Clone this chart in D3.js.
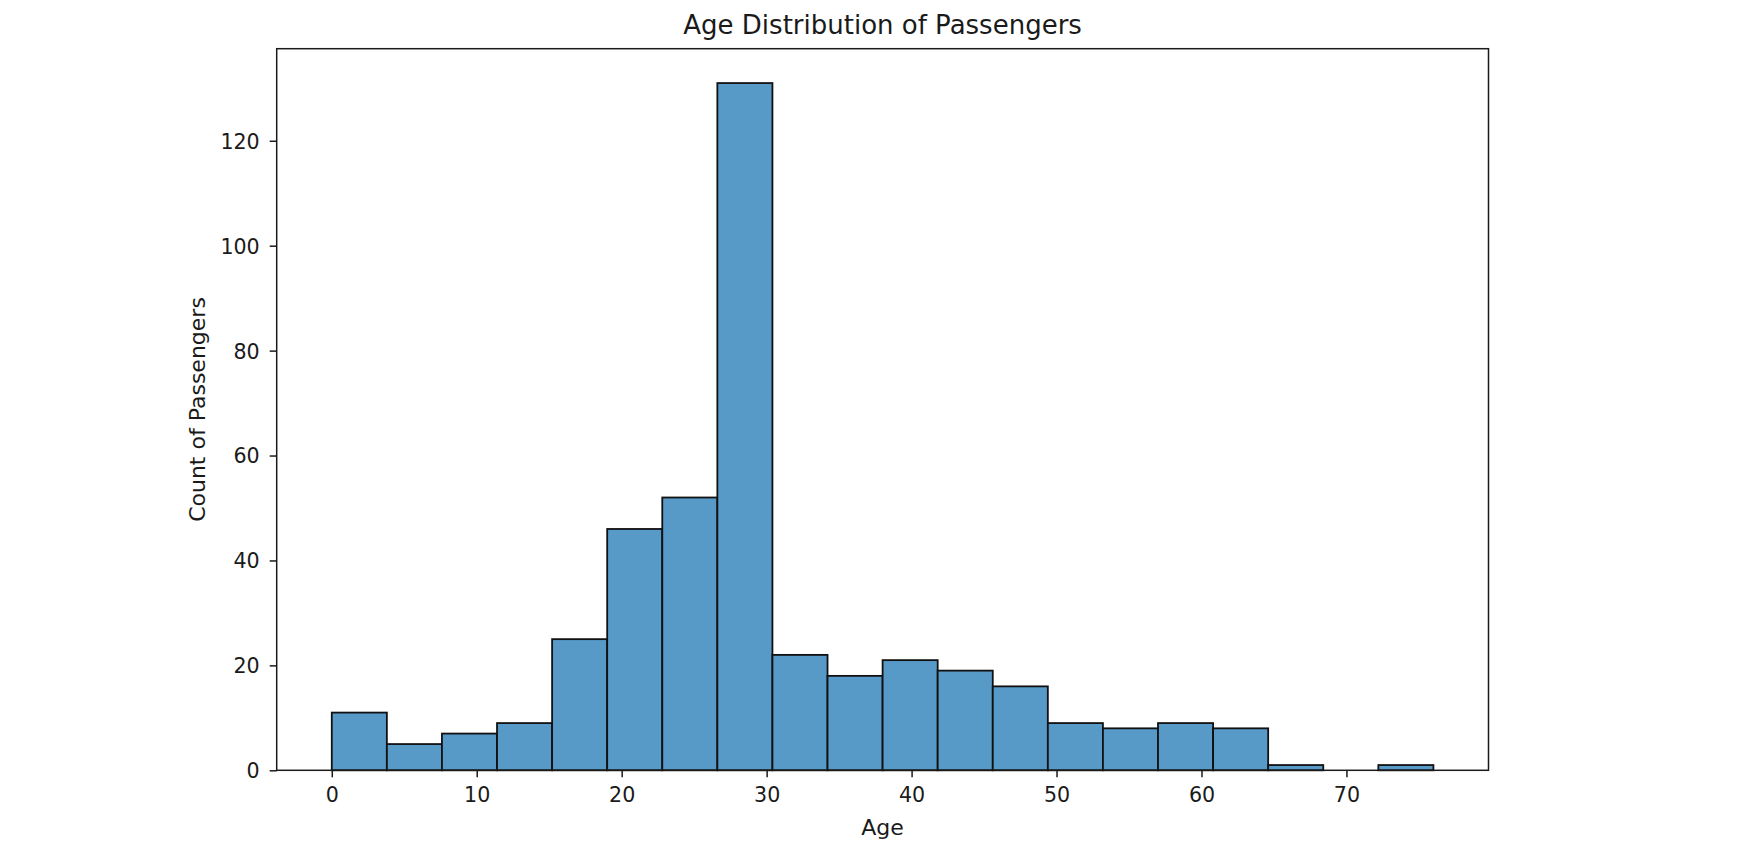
<!DOCTYPE html>
<html>
<head>
<meta charset="utf-8">
<script src="https://cdn.jsdelivr.net/npm/d3@7"></script>
<style>
  html, body { margin: 0; padding: 0; background: #fff; }
  svg text { font-family: "DejaVu Sans", sans-serif; fill: #1a1a1a; }
</style>
</head>
<body>
<svg id="chart" width="1746" height="866"></svg>
<script>
// ---- data ----
const binEdges = [0, 3.8, 7.6, 11.4, 15.2, 19, 22.8, 26.6, 30.4, 34.2, 38, 41.8, 45.6, 49.4, 53.2, 57, 60.8, 64.6, 68.4, 72.2, 76];
const counts   = [11, 5, 7, 9, 25, 46, 52, 131, 22, 18, 21, 19, 16, 9, 8, 9, 8, 1, 0, 1];
const xTicks   = [0, 10, 20, 30, 40, 50, 60, 70];
const yTicks   = [0, 20, 40, 60, 80, 100, 120];
const titleText = "Age Distribution of Passengers";
const xLabel = "Age";
const yLabel = "Count of Passengers";

// ---- layout ----
const W = 1746, H = 866;
const m = { left: 276.7, top: 48.7, right: 257.5, bottom: 95.7 };
const iw = W - m.left - m.right, ih = H - m.top - m.bottom;

const svg = d3.select("#chart");
const g = svg.append("g").attr("transform", `translate(${m.left},${m.top})`);

const xMin = binEdges[0], xMax = binEdges[binEdges.length - 1];
const pad = (xMax - xMin) * 0.05;
const x = d3.scaleLinear().domain([xMin - pad, xMax + pad]).range([0, iw]);
const yMaxV = d3.max(counts);
const y = d3.scaleLinear().domain([0, yMaxV * 1.05]).range([ih, 0]);

const bins = counts.map((c, i) => ({ x0: binEdges[i], x1: binEdges[i + 1], c }));

g.selectAll("rect.bar").data(bins.filter(d => d.c > 0)).join("rect")
  .attr("class", "bar")
  .attr("x", d => x(d.x0))
  .attr("y", d => y(d.c))
  .attr("width", d => x(d.x1) - x(d.x0))
  .attr("height", d => y(0) - y(d.c))
  .attr("fill", "#5799c7")
  .attr("stroke", "#111")
  .attr("stroke-width", 1.8);

// axes
const tickFs = 20.6, labelFs = 22;
const xAxis = d3.axisBottom(x).tickValues(xTicks).tickSize(7).tickPadding(7).tickFormat(d3.format("d"));
const yAxis = d3.axisLeft(y).tickValues(yTicks).tickSize(7).tickPadding(10).tickFormat(d3.format("d"));

const gx = g.append("g").attr("transform", `translate(0,${ih})`).call(xAxis);
const gy = g.append("g").call(yAxis);
[gx, gy].forEach(a => {
  a.select(".domain").remove();
  a.selectAll(".tick line").attr("stroke", "#1a1a1a").attr("stroke-width", 1.5);
  a.selectAll(".tick text").attr("font-size", tickFs).attr("font-family", "DejaVu Sans").attr("fill", "#1a1a1a");
});
gx.selectAll(".tick text").attr("dy", null).attr("y", 32);
gy.selectAll(".tick text").attr("dy", "0.36em");

// frame
g.append("rect").attr("x", 0).attr("y", 0).attr("width", iw).attr("height", ih)
  .attr("fill", "none").attr("stroke", "#1a1a1a").attr("stroke-width", 1.5);

// title and labels
svg.append("text").attr("x", m.left + iw / 2).attr("y", 33.5)
  .attr("text-anchor", "middle").attr("font-size", 26).text(titleText);
svg.append("text").attr("x", m.left + iw / 2).attr("y", 835)
  .attr("text-anchor", "middle").attr("font-size", labelFs).text(xLabel);
svg.append("text").attr("transform", `translate(205,${m.top + ih / 2}) rotate(-90)`)
  .attr("text-anchor", "middle").attr("font-size", labelFs).text(yLabel);
</script>
</body>
</html>
